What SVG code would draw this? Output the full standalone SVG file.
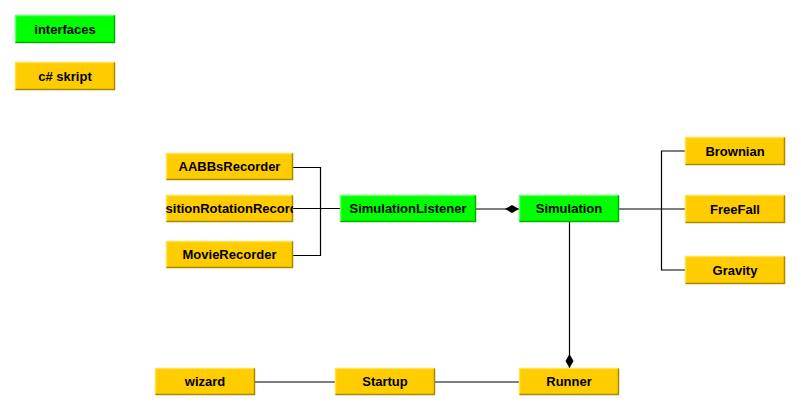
<svg xmlns="http://www.w3.org/2000/svg" width="801" height="412" viewBox="0 0 801 412">
<style>
.y{fill:#FFCC00}
.g{fill:#00FF00}
.hy{fill:none;stroke:#FFE34D;stroke-width:1.5}
.sy{fill:none;stroke:#A88A00;stroke-width:1.5}
.hg{fill:none;stroke:#66FF66;stroke-width:1.5}
.sg{fill:none;stroke:#00B000;stroke-width:1.5}
text{font-family:"Liberation Sans",Arial,sans-serif;font-size:13px;font-weight:bold;fill:#000;text-anchor:middle}
.c{fill:none;stroke:#000;stroke-width:1.2}
</style>
<defs>
<clipPath id="clipPR"><rect x="166" y="195" width="127" height="27"/></clipPath>
<marker id="dia" viewBox="0 0 14 10" refX="14" refY="5" markerWidth="14" markerHeight="10" markerUnits="userSpaceOnUse" orient="auto">
<path d="M0,5 L7,1 L14,5 L7,9 Z" fill="#000"/>
</marker>
</defs>
<rect width="801" height="412" fill="#fff"/>
<g id="connectors">
<polyline class="c" points="293,167.5 320.5,167.5 320.5,255.5 293,255.5"/>
<line class="c" x1="293" y1="208.5" x2="340" y2="208.5"/>
<line class="c" x1="476" y1="209" x2="519" y2="209" marker-end="url(#dia)"/>
<line class="c" x1="619" y1="209" x2="685" y2="209"/>
<polyline class="c" points="685,151 661.5,151 661.5,270 685,270"/>
<line class="c" x1="569.5" y1="222" x2="569.5" y2="368" marker-end="url(#dia)"/>
<line class="c" x1="255" y1="382" x2="335" y2="382"/>
<line class="c" x1="435" y1="382" x2="519" y2="382"/>
</g>
<g id="legend-interfaces">
<rect class="g" x="15" y="15" width="100" height="28"/>
<polyline class="hg" points="15.5,42.5 15.5,15.5 114.5,15.5"/>
<polyline class="sg" points="15.5,42.5 114.5,42.5 114.5,15.5"/>
<text x="65" y="33.5">interfaces</text>
</g>
<g id="legend-skript">
<rect class="y" x="15" y="62" width="100" height="28"/>
<polyline class="hy" points="15.5,89.5 15.5,62.5 114.5,62.5"/>
<polyline class="sy" points="15.5,89.5 114.5,89.5 114.5,62.5"/>
<text x="65" y="80.5">c# skript</text>
</g>
<g id="AABBsRecorder">
<rect class="y" x="166" y="153" width="127" height="27"/>
<polyline class="hy" points="166.5,179.5 166.5,153.5 292.5,153.5"/>
<polyline class="sy" points="166.5,179.5 292.5,179.5 292.5,153.5"/>
<text x="229.5" y="171">AABBsRecorder</text>
</g>
<g id="PositionRotationRecorder">
<rect class="y" x="166" y="195" width="127" height="27"/>
<polyline class="hy" points="166.5,221.5 166.5,195.5 292.5,195.5"/>
<polyline class="sy" points="166.5,221.5 292.5,221.5 292.5,195.5"/>
<text x="229.5" y="213" clip-path="url(#clipPR)">PositionRotationRecorder</text>
</g>
<g id="MovieRecorder">
<rect class="y" x="166" y="241" width="127" height="27"/>
<polyline class="hy" points="166.5,267.5 166.5,241.5 292.5,241.5"/>
<polyline class="sy" points="166.5,267.5 292.5,267.5 292.5,241.5"/>
<text x="229.5" y="259">MovieRecorder</text>
</g>
<g id="SimulationListener">
<rect class="g" x="340" y="195" width="136" height="27"/>
<polyline class="hg" points="340.5,221.5 340.5,195.5 475.5,195.5"/>
<polyline class="sg" points="340.5,221.5 475.5,221.5 475.5,195.5"/>
<text x="408" y="213">SimulationListener</text>
</g>
<g id="Simulation">
<rect class="g" x="519" y="195" width="100" height="27"/>
<polyline class="hg" points="519.5,221.5 519.5,195.5 618.5,195.5"/>
<polyline class="sg" points="519.5,221.5 618.5,221.5 618.5,195.5"/>
<text x="569" y="213">Simulation</text>
</g>
<g id="Brownian">
<rect class="y" x="685" y="137" width="100" height="28"/>
<polyline class="hy" points="685.5,164.5 685.5,137.5 784.5,137.5"/>
<polyline class="sy" points="685.5,164.5 784.5,164.5 784.5,137.5"/>
<text x="735" y="155.5">Brownian</text>
</g>
<g id="FreeFall">
<rect class="y" x="685" y="195" width="100" height="28"/>
<polyline class="hy" points="685.5,222.5 685.5,195.5 784.5,195.5"/>
<polyline class="sy" points="685.5,222.5 784.5,222.5 784.5,195.5"/>
<text x="735" y="213.5">FreeFall</text>
</g>
<g id="Gravity">
<rect class="y" x="685" y="256" width="100" height="28"/>
<polyline class="hy" points="685.5,283.5 685.5,256.5 784.5,256.5"/>
<polyline class="sy" points="685.5,283.5 784.5,283.5 784.5,256.5"/>
<text x="735" y="274.5">Gravity</text>
</g>
<g id="wizard">
<rect class="y" x="155" y="368" width="100" height="27"/>
<polyline class="hy" points="155.5,394.5 155.5,368.5 254.5,368.5"/>
<polyline class="sy" points="155.5,394.5 254.5,394.5 254.5,368.5"/>
<text x="205" y="386">wizard</text>
</g>
<g id="Startup">
<rect class="y" x="335" y="368" width="100" height="27"/>
<polyline class="hy" points="335.5,394.5 335.5,368.5 434.5,368.5"/>
<polyline class="sy" points="335.5,394.5 434.5,394.5 434.5,368.5"/>
<text x="385" y="386">Startup</text>
</g>
<g id="Runner">
<rect class="y" x="519" y="368" width="100" height="27"/>
<polyline class="hy" points="519.5,394.5 519.5,368.5 618.5,368.5"/>
<polyline class="sy" points="519.5,394.5 618.5,394.5 618.5,368.5"/>
<text x="569" y="386">Runner</text>
</g>
</svg>
